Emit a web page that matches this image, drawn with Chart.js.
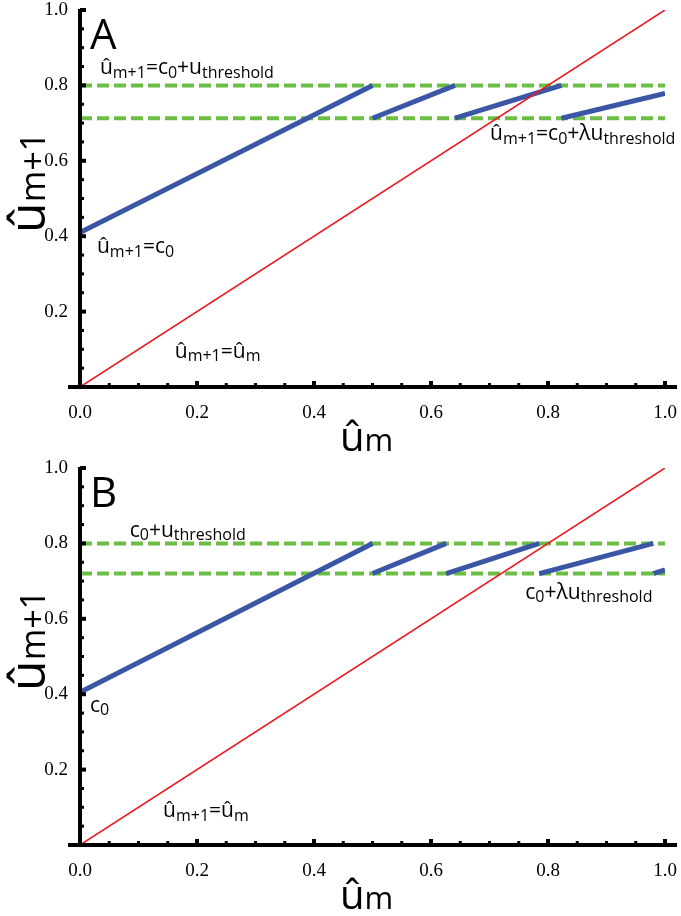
<!DOCTYPE html>
<html>
<head>
<meta charset="utf-8">
<script src="https://cdn.jsdelivr.net/npm/chart.js@4.4.1/dist/chart.umd.min.js"></script>
<style>
  html, body { margin: 0; padding: 0; background: #fff; }
  .panel { position: relative; width: 681px; height: 458px; }
</style>
</head>
<body>
<div class="panel"><canvas id="chartA"></canvas></div>
<div class="panel"><canvas id="chartB"></canvas></div>
<script>
// ---- data ----
// panel A
const levelsA = [0.8, 0.713];
const blueX0A = [0, 0.5, 0.641, 0.823];
const blueY0A = [0.41, 0.713, 0.713, 0.713];
const blueX1A = [0.5, 0.641, 0.823, 1.0];
const blueY1A = [0.8, 0.8, 0.8, 0.779];
// panel B
const levelsB = [0.8, 0.72];
const blueX0B = [0, 0.5, 0.626, 0.785, 0.98];
const blueY0B = [0.405, 0.72, 0.72, 0.72, 0.72];
const blueX1B = [0.5, 0.626, 0.785, 0.98, 1.0];
const blueY1B = [0.8, 0.8, 0.8, 0.8, 0.73];
// identity line u_{m+1} = u_m
const diagX = [0, 1];
const diagY = [0, 1];

const BLUE = '#3a56a5', RED = '#ec1c24', GREEN = '#6cbd45';
const SANS = '"Open Sans", sans-serif';
const SERIF = '"Liberation Serif", serif';

// rich text pieces: [text, isSub]
const uhatM1 = [['û', 0], ['m+1', 1]];
const notesA = [
  { x: 0.034, y: 0.83, parts: [...uhatM1, ['=c', 0], ['0', 1], ['+u', 0], ['threshold', 1]] },
  { x: 0.701, y: 0.655, parts: [...uhatM1, ['=c', 0], ['0', 1], ['+λu', 0], ['threshold', 1]] },
  { x: 0.029, y: 0.355, parts: [...uhatM1, ['=c', 0], ['0', 1]] },
  { x: 0.162, y: 0.077, parts: [...uhatM1, ['=û', 0], ['m', 1]] }
];
const notesB = [
  { x: 0.085, y: 0.817, parts: [['c', 0], ['0', 1], ['+u', 0], ['threshold', 1]] },
  { x: 0.761, y: 0.653, parts: [['c', 0], ['0', 1], ['+λu', 0], ['threshold', 1]] },
  { x: 0.017, y: 0.353, parts: [['c', 0], ['0', 1]] },
  { x: 0.142, y: 0.074, parts: [...uhatM1, ['=û', 0], ['m', 1]] }
];

function drawParts(ctx, parts, x, y, mainSize, subSize, subDrop) {
  let cx = x;
  parts.forEach(([txt, sub]) => {
    ctx.font = (sub ? subSize : mainSize) + 'px ' + SANS;
    ctx.fillText(txt, cx, y + (sub ? subDrop : 0));
    cx += ctx.measureText(txt).width;
  });
}

const framePlugin = {
  id: 'frame',
  afterDraw(chart, args, opts) {
    const {ctx, scales: {x: xs, y: ys}} = chart;
    const x0 = xs.getPixelForValue(0), y0 = ys.getPixelForValue(0);
    const x1 = xs.getPixelForValue(1), y1 = ys.getPixelForValue(1);
    ctx.save();
    ctx.fillStyle = '#000';
    // axes
    ctx.fillRect(x0 - 12, y0 - 2, x1 - x0 + 24, 4);
    ctx.fillRect(x0 - 2, y1 - 1, 4, y0 - y1 + 3);
    // inward ticks, major every 0.2, minor every 0.05
    for (let i = 0; i <= 20; i++) {
      const major = i % 4 === 0;
      const len = major ? 6 : 4, w = major ? 4 : 3;
      const px = xs.getPixelForValue(i / 20);
      const py = ys.getPixelForValue(i / 20);
      ctx.fillRect(px - w / 2, y0 - len, w, len);
      ctx.fillRect(x0, py - w / 2, len, w);
    }
    ctx.textAlign = 'left';
    ctx.textBaseline = 'alphabetic';
    // axis titles
    drawParts(ctx, [['û', 0], ['m', 1]], 340, 451, 40, 31, 0);
    ctx.save();
    ctx.translate(45, 233);
    ctx.rotate(-Math.PI / 2);
    drawParts(ctx, [['û', 0], ['m+1', 1]], 0, 0, 50, 34, 0);
    ctx.restore();
    // panel letter
    ctx.font = '42px ' + SANS;
    ctx.fillText(opts.letter, xs.getPixelForValue(0.017), ys.getPixelForValue(0.897));
    // annotations
    opts.notes.forEach(n => {
      drawParts(ctx, n.parts, xs.getPixelForValue(n.x), ys.getPixelForValue(n.y), 21, 16, 3.5);
    });
    ctx.restore();
  }
};

function seg(x0, y0, x1, y1) {
  return [{x: x0, y: y0}, {x: x1, y: y1}];
}

function makeChart(id, levels, bx0, by0, bx1, by1, letter, notes) {
  const datasets = [];
  datasets.push({
    data: diagX.map((v, i) => ({x: v, y: diagY[i]})),
    borderColor: RED, borderWidth: 1.6, order: 0
  });
  bx0.forEach((v, i) => datasets.push({
    data: seg(v, by0[i], bx1[i], by1[i]),
    borderColor: BLUE, borderWidth: 5, borderCapStyle: 'butt', order: 1
  }));
  levels.forEach(lv => datasets.push({
    data: seg(0, lv, 1, lv),
    borderColor: GREEN, borderWidth: 4, borderDash: [12, 5], order: 2
  }));
  datasets.forEach(d => { d.showLine = true; d.pointRadius = 0; d.fill = false; });

  return new Chart(document.getElementById(id), {
    type: 'scatter',
    data: {datasets},
    options: {
      responsive: true,
      maintainAspectRatio: false,
      animation: false,
      layout: {padding: {top: 10, right: 16, left: 0, bottom: 0}},
      plugins: {
        legend: {display: false},
        tooltip: {enabled: false},
        frame: {letter, notes}
      },
      scales: {
        x: {
          type: 'linear', min: 0, max: 1,
          grid: {display: false}, border: {display: false},
          ticks: {
            stepSize: 0.2, padding: 7, color: '#000', maxRotation: 0, autoSkip: false,
            font: {family: SERIF, size: 19},
            callback: v => v.toFixed(1)
          },
          afterFit: s => { s.height = 71; s.paddingLeft = 0; s.paddingRight = 0; }
        },
        y: {
          type: 'linear', min: 0, max: 1,
          grid: {display: false}, border: {display: false},
          ticks: {
            stepSize: 0.2, padding: 4, color: '#000', autoSkip: false,
            font: {family: SERIF, size: 19},
            callback: v => (v === 0 ? '' : v.toFixed(1))
          },
          afterFit: s => { s.width = 80; s.paddingTop = 0; s.paddingBottom = 0; }
        }
      }
    },
    plugins: [framePlugin]
  });
}

makeChart('chartA', levelsA, blueX0A, blueY0A, blueX1A, blueY1A, 'A', notesA);
makeChart('chartB', levelsB, blueX0B, blueY0B, blueX1B, blueY1B, 'B', notesB);
</script>
</body>
</html>
